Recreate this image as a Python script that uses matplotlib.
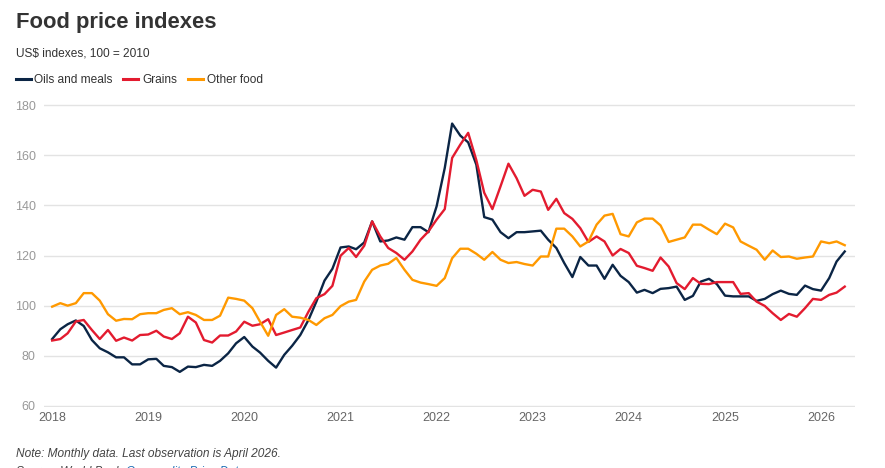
import pandas as pd
import matplotlib
matplotlib.use('Agg')
import matplotlib.pyplot as plt
from matplotlib.lines import Line2D

plt.rcParams['font.family'] = ['Liberation Sans', 'DejaVu Sans']

# --- data (monthly Jan 2018 - Apr 2026) ---
months = pd.date_range('2018-01-01', periods=100, freq='MS')

oils_meals = [
    86.7, 90.6, 92.6, 94.1, 91.9, 86.3, 83.0, 81.4, 79.4, 79.4, 76.6, 76.6,
    78.6, 78.8, 76.0, 75.5, 73.6, 75.7, 75.5, 76.4, 76.0, 78.0, 81.0, 85.0,
    87.5, 83.7, 81.3, 78.0, 75.3, 80.4, 84.0, 88.3, 94.3, 101.6, 110.0, 114.7,
    123.2, 123.6, 122.5, 125.2, 133.6, 125.6, 126.0, 127.2, 126.3, 131.3, 131.3, 129.3,
    139.6, 154.9, 172.6, 167.8, 165.1, 156.2, 135.3, 134.3, 129.3, 126.9, 129.3, 129.3,
    129.6, 129.9, 126.3, 123.0, 117.0, 111.4, 119.4, 116.0, 116.0, 110.7, 116.3, 111.9,
    109.4, 105.2, 106.3, 105.0, 106.7, 107.0, 107.6, 102.3, 103.9, 109.6, 110.7, 108.6,
    104.0, 103.7, 103.7, 103.7, 101.9, 102.7, 104.6, 106.0, 104.7, 104.3, 108.0, 106.6,
    106.0, 111.0, 117.6, 121.6,
]

grains = [
    86.1, 86.7, 89.0, 93.7, 94.3, 90.3, 86.7, 90.3, 86.0, 87.3, 86.1, 88.3,
    88.5, 90.0, 87.7, 86.7, 89.0, 95.6, 93.3, 86.3, 85.3, 88.1, 88.1, 89.7,
    93.6, 92.0, 92.6, 94.6, 88.3, 89.3, 90.3, 91.3, 97.6, 103.0, 104.6, 107.9,
    119.9, 123.0, 119.4, 123.9, 133.6, 127.6, 123.0, 121.0, 118.3, 121.6, 126.3, 129.6,
    134.3, 138.5, 158.9, 164.2, 168.9, 158.0, 145.0, 138.5, 147.6, 156.6, 150.8, 143.8,
    146.2, 145.5, 138.2, 142.6, 136.9, 134.6, 130.9, 125.4, 127.6, 125.6, 120.0, 122.6,
    121.0, 115.9, 115.0, 113.9, 119.2, 115.6, 109.0, 106.6, 111.0, 108.7, 108.6, 109.4,
    109.4, 109.4, 104.7, 105.0, 101.6, 99.9, 97.0, 94.3, 96.7, 95.6, 99.0, 102.7,
    102.3, 104.3, 105.2, 107.6,
]

other_food = [
    99.6, 101.0, 100.0, 101.0, 105.0, 105.0, 102.0, 96.6, 94.0, 94.7, 94.6, 96.6,
    97.0, 97.0, 98.3, 99.0, 96.6, 97.4, 96.3, 94.3, 94.3, 96.0, 103.2, 102.7,
    102.0, 99.0, 93.6, 88.0, 96.3, 98.6, 95.6, 95.2, 94.3, 92.3, 95.0, 96.3,
    99.8, 101.6, 102.3, 109.6, 114.3, 116.0, 116.7, 119.0, 114.3, 110.3, 109.2, 108.6,
    107.9, 111.0, 118.9, 122.7, 122.7, 120.7, 118.3, 121.4, 118.3, 117.0, 117.4, 116.6,
    116.0, 119.6, 119.6, 130.7, 130.7, 127.6, 123.6, 125.6, 132.3, 135.9, 136.6, 128.5,
    127.6, 133.2, 134.7, 134.7, 132.0, 125.4, 126.3, 127.2, 132.3, 132.3, 130.3, 128.5,
    132.7, 131.2, 125.6, 123.9, 122.3, 118.3, 122.0, 119.4, 119.6, 118.7, 119.2, 119.6,
    125.6, 124.9, 125.6, 124.1,
]

series_names = ['Oils and meals', 'Grains', 'Other food']
series_colors = ['#0b2545', '#e31b2f', '#ff9900']
year_ticks = list(range(2018, 2027))
y_ticks = [60, 80, 100, 120, 140, 160, 180]

# --- figure, laid out in pixels ---
W, H = 885, 468
fig = plt.figure(figsize=(W / 100, H / 100), dpi=100)

def fx(px):
    return px / W

def fy(py):
    return 1 - py / H

ax = fig.add_axes([fx(44), fy(407), fx(855) - fx(44), fy(104) - fy(407)])

for vals, name, col in zip([oils_meals, grains, other_food], series_names, series_colors):
    ax.plot(months, vals, color=col, lw=1.7, label=name, solid_joinstyle='round')

ax.set_ylim(59.6, 180.4)
ax.set_xlim(pd.Timestamp('2017-12-01'), pd.Timestamp('2026-05-10'))
ax.set_yticks(y_ticks)
ax.set_xticks([pd.Timestamp(f'{y}-01-01') for y in year_ticks])
ax.set_xticklabels([str(y) for y in year_ticks])
ax.yaxis.grid(True, color='#e3e3e3', lw=1)
ax.set_axisbelow(True)
for s in ax.spines.values():
    s.set_visible(False)
ax.tick_params(axis='y', length=0, pad=6, labelsize=9, labelcolor='#999999')
ax.tick_params(axis='x', length=0, pad=3.5, labelsize=9, labelcolor='#666666')

# --- titles ---
fig.text(fx(15.5), fy(28.3), 'Food price indexes', fontsize=15.8, fontweight='bold',
         color='#333333', va='baseline')
fig.text(fx(15.5), fy(56), 'US$ indexes, 100 = 2010', fontsize=8.6,
         color='#333333', va='baseline')

# --- legend drawn by hand ---
leg_items = [(15.7, 34, 'Oils and meals'), (123, 142.7, 'Grains'), (188, 206.7, 'Other food')]
for (lx, tx, name), col in zip(leg_items, series_colors):
    fig.add_artist(Line2D([fx(lx), fx(lx + 15)], [fy(79.3), fy(79.3)], color=col, lw=2.2))
    fig.text(fx(tx), fy(83.3), name, fontsize=8.6, color='#333333', va='baseline')

# --- notes ---
fig.text(fx(15.7), fy(456.7), 'Note: Monthly data. Last observation is April 2026.',
         fontsize=8.6, style='italic', color='#444444', va='baseline')
fig.text(fx(15.7), fy(474.5), 'Source: World Bank,', fontsize=8.6, style='italic',
         color='#444444', va='baseline')
fig.text(fx(126), fy(474.5), 'Commodity Price Data', fontsize=8.6, style='italic',
         color='#1f6fb5', va='baseline')

fig.savefig('out.png', dpi=100)
